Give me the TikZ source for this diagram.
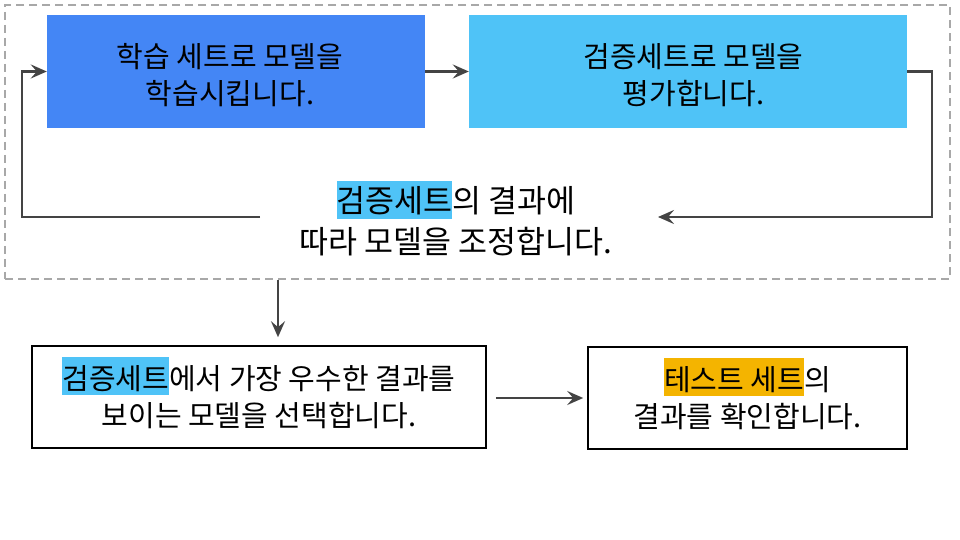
\documentclass[tikz,border=0pt]{standalone}
\usepackage{fontspec}
\setmainfont{Noto Sans CJK KR}
\usetikzlibrary{arrows.meta,calc}
\definecolor{boxblue}{HTML}{4486F5}
\definecolor{boxsky}{HTML}{4FC3F7}
\definecolor{hlyellow}{HTML}{F4B400}
\definecolor{arrgray}{HTML}{444444}
\definecolor{dashgray}{HTML}{A8A8A8}
\newcommand{\hlmark}[2]{\smash{\setlength{\fboxsep}{0pt}\colorbox{#1}{\rule[-6pt]{0pt}{38pt}#2}}}
\tikzset{
  txt/.style={font=\fontsize{29}{37}\selectfont, align=center, text=black, inner sep=0pt},
  bigtxt/.style={txt, font=\fontsize{31.5}{41}\selectfont},
  fillbox/.style={inner sep=0pt, minimum height=113pt},
  linebox/.style={txt, draw=black, line width=1.6pt, minimum height=102pt},
  arr/.style={draw=arrgray, line width=2.4pt, -{Stealth[length=16pt,width=14pt,inset=6pt]}},
  grpbox/.style={draw=dashgray, line width=1.5pt, dash pattern=on 8pt off 5pt, inner sep=0pt}
}
\begin{document}
\begin{tikzpicture}[x=1pt,y=-1pt]
\useasboundingbox[fill=white] (0,0) rectangle (960,540);
\node[grpbox, minimum width=945pt, minimum height=274pt] (grp) at (477.5,142) {};
\node[fillbox, fill=boxblue, minimum width=378pt] (b1) at (236,71.5) {};
\node[fillbox, fill=boxsky, minimum width=438pt] (b2) at (688,71.5) {};
\node[txt] (b1t) at (230,75.5) {학습 세트로 모델을\\학습시킵니다.};
\node[txt] (b2t) at (693.5,75.5) {검증세트로 모델을\\평가합니다.};
\node[bigtxt] (fb) at (456,221.5) {\hlmark{boxsky}{검증세트}의 결과에\\따라 모델을 조정합니다.};
\node[linebox, minimum width=454pt] (b3) at (259,397) {\hlmark{boxsky}{검증세트}에서 가장 우수한 결과를\\보이는 모델을 선택합니다.};
\node[linebox, minimum width=319pt] (b4) at (747.5,398) {\hlmark{hlyellow}{테스트 세트}의\\결과를 확인합니다.};
\coordinate (fbl) at (260,217);
\coordinate (fbr) at (658,217);
\coordinate (lx) at (22,0);
\coordinate (dx) at (278,0);
\draw[arr] (b1.east) -- (b2.west);
\draw[arr] (b2.east) -- ++(25,0) |- (fbr);
\draw[arr] (fbl) -| (lx |- b1.west) -- (b1.west);
\draw[arr, shorten >=8pt] (grp.south -| dx) -- (b3.north -| dx);
\draw[arr, shorten <=9pt, shorten >=4pt] (b3.east |- b4.west) -- (b4.west);
\end{tikzpicture}
\end{document}
